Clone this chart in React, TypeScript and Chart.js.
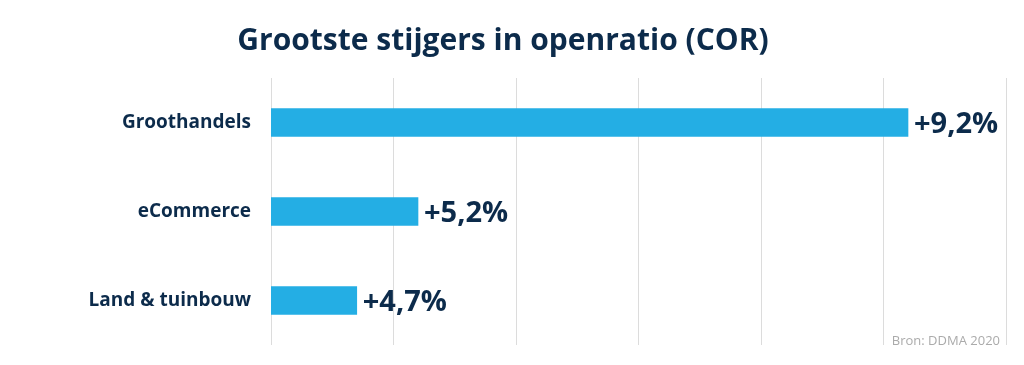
import React, { useEffect, useRef } from "react";
import { Chart, registerables } from "chart.js";

Chart.register(...registerables);

const categories = ["Groothandels", "eCommerce", "Land & tuinbouw"];
const values = [9.2, 5.2, 4.7];
const valueLabels = ["+9,2%", "+5,2%", "+4,7%"];
const xMin = 4;
const xMax = 10;
const titleText = "Grootste stijgers in openratio (COR)";
const sourceText = "Bron: DDMA 2020";

const NAVY = "#0C2B4B";
const BLUE = "#24AEE4";

const valueLabelPlugin = {
  id: "valueLabels",
  afterDatasetsDraw(chart: any) {
    const ctx = chart.ctx;
    const meta = chart.getDatasetMeta(0);
    ctx.save();
    ctx.fillStyle = NAVY;
    ctx.font = "700 29px 'Open Sans'";
    ctx.textAlign = "left";
    ctx.textBaseline = "middle";
    meta.data.forEach((bar: any, i: number) => {
      ctx.fillText(valueLabels[i], bar.x + 6, bar.y + 2);
    });
    ctx.restore();
  },
};

const sourcePlugin = {
  id: "source",
  afterDraw(chart: any) {
    const ctx = chart.ctx;
    ctx.save();
    ctx.fillStyle = "#ABABAB";
    ctx.font = "400 13px 'Open Sans'";
    ctx.textAlign = "right";
    ctx.textBaseline = "alphabetic";
    ctx.fillText(sourceText, 1000, 345);
    ctx.restore();
  },
};

export default function App() {
  const ref = useRef<HTMLCanvasElement | null>(null);
  useEffect(() => {
    if (!ref.current) return;
    const chart = new Chart(ref.current, {
      type: "bar",
      data: {
        labels: categories,
        datasets: [
          {
            data: values,
            backgroundColor: BLUE,
            borderWidth: 0,
            barThickness: 28,
          },
        ],
      },
      plugins: [valueLabelPlugin, sourcePlugin],
      options: {
        indexAxis: "y",
        animation: false,
        responsive: true,
        maintainAspectRatio: false,
        layout: { padding: { left: 0, right: 18, top: 0, bottom: 0 } },
        plugins: {
          legend: { display: false },
          tooltip: { enabled: false },
          title: {
            display: true,
            text: titleText,
            color: NAVY,
            font: { family: "'Open Sans'", size: 30, weight: "700" },
            padding: { top: 23, bottom: 19 },
          },
        },
        scales: {
          x: {
            min: xMin,
            max: xMax,
            ticks: { display: false, stepSize: 1 },
            grid: { color: "#DCDCDC", lineWidth: 1, drawTicks: false },
            border: { display: false },
            afterFit: (s: any) => {
              s.height = 20;
              s.paddingLeft = 0;
              s.paddingRight = 0;
            },
          },
          y: {
            ticks: {
              color: NAVY,
              font: { family: "'Open Sans'", size: 19, weight: "700" },
              padding: 20,
            },
            grid: { display: false, drawTicks: false },
            border: { display: false },
            afterFit: (s: any) => {
              s.width = 271;
              s.paddingTop = 0;
              s.paddingBottom = 0;
            },
          },
        },
      },
    });
    return () => chart.destroy();
  }, []);
  return (
    <div style={{ position: "fixed", left: 0, top: 0, width: 1024, height: 365, background: "#fff" }}>
      <canvas ref={ref} />
    </div>
  );
}
